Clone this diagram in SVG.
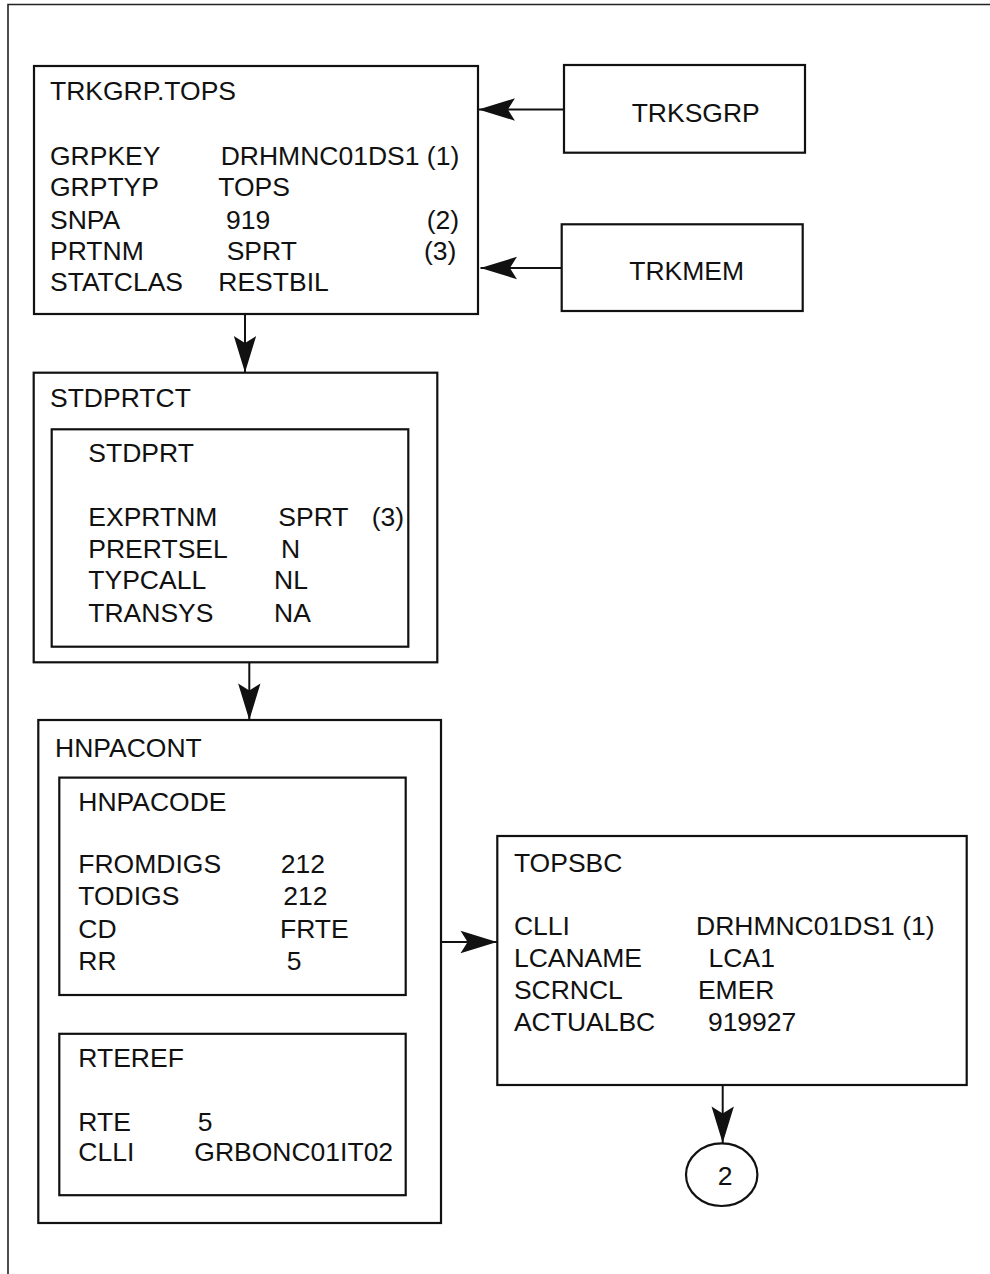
<svg xmlns="http://www.w3.org/2000/svg" width="990" height="1274" viewBox="0 0 990 1274">
<defs>
<style>
.box{fill:none;stroke:#111;stroke-width:2.2}
.frame{fill:none;stroke:#222;stroke-width:1.6}
.conn{fill:none;stroke:#111;stroke-width:2}
text{font-family:"Liberation Sans",Arial,sans-serif;font-size:26.5px;fill:#111}
</style>
<marker id="ah" markerUnits="userSpaceOnUse" markerWidth="40" markerHeight="30" viewBox="-32 -12 34 24" refX="0" refY="0" orient="auto">
<path d="M0,0 L-31,-9.5 L-25,0 L-31,9.5 Z" fill="#111"/>
</marker>
</defs>
<rect width="990" height="1274" fill="#fff"/>
<g id="frame">
<path class="frame" d="M8,1274 L8,4.5 L990,4.5"/>
</g>
<g id="connectors">
<path class="conn" d="M564,109.5 L478.5,109.5" marker-end="url(#ah)"/>
<path class="conn" d="M561.7,268 L480.5,268" marker-end="url(#ah)"/>
<path class="conn" d="M245,314 L245,372.5" marker-end="url(#ah)"/>
<path class="conn" d="M249.3,662.3 L249.3,720" marker-end="url(#ah)"/>
<path class="conn" d="M441,942 L497,942" marker-end="url(#ah)"/>
<path class="conn" d="M722.7,1085 L722.7,1143" marker-end="url(#ah)"/>
</g>
<g id="trkgrp">
<rect class="box" x="34" y="66" width="444" height="248"/>
<text x="50" y="100">TRKGRP.TOPS</text>
<text x="50" y="165">GRPKEY</text><text x="220.7" y="165">DRHMNC01DS1 (1)</text>
<text x="50" y="196">GRPTYP</text><text x="218.3" y="196">TOPS</text>
<text x="50" y="228.7">SNPA</text><text x="226" y="228.7">919</text><text x="426.7" y="228.7">(2)</text>
<text x="50" y="260">PRTNM</text><text x="226.7" y="260">SPRT</text><text x="424" y="260">(3)</text>
<text x="50" y="291">STATCLAS</text><text x="218.3" y="291">RESTBIL</text>
</g>
<g id="trksgrp">
<rect class="box" x="564" y="65" width="241" height="87.7"/>
<text x="631.7" y="121.7">TRKSGRP</text>
</g>
<g id="trkmem">
<rect class="box" x="561.7" y="224.3" width="241" height="86.7"/>
<text x="629.3" y="280">TRKMEM</text>
</g>
<g id="stdprtct">
<rect class="box" x="33.7" y="372.7" width="403.6" height="289.6"/>
<text x="50" y="407.3">STDPRTCT</text>
</g>
<g id="stdprt">
<rect class="box" x="51.7" y="429.3" width="356.6" height="217.4"/>
<text x="88.3" y="461.7">STDPRT</text>
<text x="88.3" y="525.7">EXPRTNM</text><text x="278.3" y="525.7">SPRT</text><text x="371.7" y="525.7">(3)</text>
<text x="88.3" y="557.7">PRERTSEL</text><text x="281" y="557.7">N</text>
<text x="88.3" y="588.7">TYPCALL</text><text x="274" y="588.7">NL</text>
<text x="88.3" y="621.7">TRANSYS</text><text x="274" y="621.7">NA</text>
</g>
<g id="hnpacont">
<rect class="box" x="38.3" y="720" width="402.7" height="503"/>
<text x="55" y="756.7">HNPACONT</text>
</g>
<g id="hnpacode">
<rect class="box" x="59.3" y="777.6" width="346.4" height="217.4"/>
<text x="78.3" y="810.5">HNPACODE</text>
<text x="78.3" y="873.1">FROMDIGS</text><text x="280.7" y="873.1">212</text>
<text x="78.3" y="905">TODIGS</text><text x="283.3" y="905">212</text>
<text x="78.3" y="937.9">CD</text><text x="280" y="937.9">FRTE</text>
<text x="78.3" y="969.8">RR</text><text x="286.7" y="969.8">5</text>
</g>
<g id="rteref">
<rect class="box" x="59.3" y="1033.8" width="346.4" height="161.4"/>
<text x="78.3" y="1066.8">RTEREF</text>
<text x="78.3" y="1130.8">RTE</text><text x="197.7" y="1130.8">5</text>
<text x="78.3" y="1161.2">CLLI</text><text x="194.3" y="1161.2">GRBONC01IT02</text>
</g>
<g id="topsbc">
<rect class="box" x="497.3" y="836" width="469.4" height="249"/>
<text x="513.9" y="871.7">TOPSBC</text>
<text x="513.9" y="935">CLLI</text><text x="696" y="935">DRHMNC01DS1 (1)</text>
<text x="513.9" y="966.7">LCANAME</text><text x="708.6" y="966.7">LCA1</text>
<text x="513.9" y="999">SCRNCL</text><text x="697.9" y="999">EMER</text>
<text x="513.9" y="1031">ACTUALBC</text><text x="707.9" y="1031">919927</text>
</g>
<g id="offpage2">
<ellipse class="box" cx="721.7" cy="1174.7" rx="35.7" ry="31.3"/>
<text x="725" y="1185" text-anchor="middle">2</text>
</g>
</svg>
